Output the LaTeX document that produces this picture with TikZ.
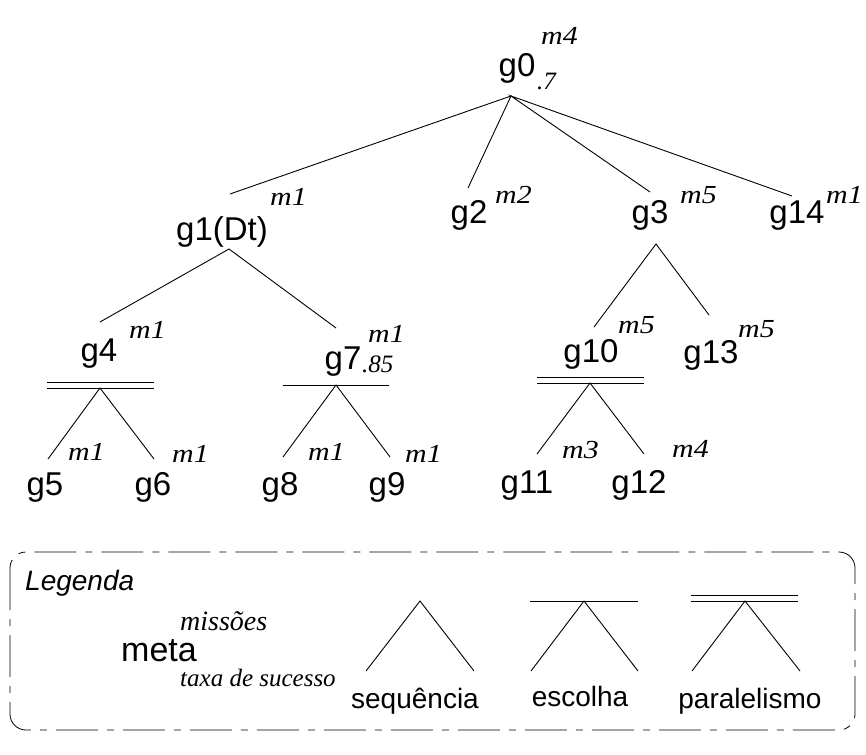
\documentclass[tikz,border=0pt]{standalone}
\usepackage{fontspec}
\setmainfont{Liberation Sans}
\newfontfamily\misfont{Liberation Serif}
\newfontfamily\miswide[FakeStretch=1.15]{Liberation Serif}
\usetikzlibrary{positioning}
\tikzset{
  goal/.style={inner sep=0pt, anchor=base, font=\fontsize{33}{36}\selectfont},
  mis/.style={inner sep=0pt, anchor=base west, font=\miswide\itshape\fontsize{26}{28}\selectfont},
  rate/.style={inner sep=0pt, anchor=base west, font=\misfont\itshape\fontsize{25}{28}\selectfont},
  legtxt/.style={inner sep=0pt, anchor=base, font=\fontsize{28}{32}\selectfont},
  branch/.style={line width=0.9pt},
  bar/.style={line width=0.9pt},
}

\begin{document}
\begin{tikzpicture}[x=1pt, y=-1pt]
  \useasboundingbox (0,0) rectangle (866,754);

  % goals
  \node[goal] (g0) at (517,77) {g0};
  \node[mis] (g0m) at (541,45) {m4};
  \node[rate] (g0t) at (537,90) {.7};
  \node[goal] (g1) at (222,240) {g1(Dt)};
  \node[mis] (g1m) at (270,205) {m1};
  \node[goal] (g2) at (469,223) {g2};
  \node[mis] (g2m) at (495,203) {m2};
  \node[goal] (g3) at (650,223) {g3};
  \node[mis] (g3m) at (680,203) {m5};
  \node[goal] (g14) at (797,223) {g14};
  \node[mis] (g14m) at (826,203) {m1};
  \node[goal] (g4) at (99,361) {g4};
  \node[mis] (g4m) at (129,338) {m1};
  \node[goal] (g7) at (343,369) {g7};
  \node[mis] (g7m) at (368,342) {m1};
  \node[rate] (g7t) at (362,372) {.85};
  \node[goal] (g10) at (591,362) {g10};
  \node[mis] (g10m) at (618,333) {m5};
  \node[goal] (g13) at (711,363) {g13};
  \node[mis] (g13m) at (738,337) {m5};
  \node[goal] (g5) at (45,495) {g5};
  \node[mis] (g5m) at (68,460) {m1};
  \node[goal] (g6) at (153,495) {g6};
  \node[mis] (g6m) at (172,462) {m1};
  \node[goal] (g8) at (280,495) {g8};
  \node[mis] (g8m) at (308,460) {m1};
  \node[goal] (g9) at (387,495) {g9};
  \node[mis] (g9m) at (405,462) {m1};
  \node[goal] (g11) at (527,493) {g11};
  \node[mis] (g11m) at (562,458) {m3};
  \node[goal] (g12) at (639,493) {g12};
  \node[mis] (g12m) at (672,457) {m4};

  % forks and ends
  \coordinate (g0f) at (511,96);
  \coordinate (g1in) at (230,194);
  \coordinate (g2in) at (468,188);
  \coordinate (g3in) at (650,192);
  \coordinate (g14in) at (792,196);
  \coordinate (g1f) at (229,249);
  \coordinate (g4in) at (100,322);
  \coordinate (g7in) at (336,328);
  \coordinate (g3f) at (656,244);
  \coordinate (g10in) at (594,327);
  \coordinate (g13in) at (709,315);
  \coordinate (g4f) at (100,388);
  \coordinate (g5in) at (48,459);
  \coordinate (g6in) at (154,459);
  \coordinate (g7f) at (336,385);
  \coordinate (g8in) at (283,457);
  \coordinate (g9in) at (390,457);
  \coordinate (g10f) at (590,383);
  \coordinate (g11in) at (537,454);
  \coordinate (g12in) at (644,454);

  \draw[branch] (g1in) -- (g0f) -- (g2in);
  \draw[branch] (g3in) -- (g0f) -- (g14in);
  \draw[branch] (g4in) -- (g1f) -- (g7in);
  \draw[branch] (g10in) -- (g3f) -- (g13in);
  \draw[branch] (g5in) -- (g4f) -- (g6in);
  \draw[branch] (g8in) -- (g7f) -- (g9in);
  \draw[branch] (g11in) -- (g10f) -- (g12in);

  % and / or bars
  \draw[bar] (47,382) -- (154,382);
  \draw[bar] (47,388) -- (154,388);
  \draw[bar] (283,385) -- (389,385);
  \draw[bar] (537,377) -- (644,377);
  \draw[bar] (537,383) -- (644,383);

  % legend
  \draw[line width=0.8pt, rounded corners=16pt,
        dash pattern=on 42pt off 9pt on 7pt off 9pt]
    (10,552) rectangle (855,730);
  \node[inner sep=0pt, anchor=base west,
        font=\itshape\fontsize{28}{32}\selectfont] (leg) at (25,590) {Legenda};
  \node[inner sep=0pt, anchor=base west,
        font=\fontsize{34}{38}\selectfont] (meta) at (121,661) {meta};
  \node[rate, font=\misfont\itshape\fontsize{28}{30}\selectfont] (legm) at (180,630) {missões};
  \node[rate] (legt) at (180,686) {taxa de sucesso};

  \coordinate (seqf) at (420,601);
  \coordinate (seql) at (366,671);
  \coordinate (seqr) at (474,671);
  \draw[branch] (seql) -- (seqf) -- (seqr);
  \node[legtxt] (seq) at (415,708) {sequência};

  \coordinate (escf) at (584,601);
  \coordinate (escl) at (531,671);
  \coordinate (escr) at (638,671);
  \draw[branch] (escl) -- (escf) -- (escr);
  \draw[bar] (530,601) -- (638,601);
  \node[legtxt] (esc) at (580,706) {escolha};

  \coordinate (parf) at (745,601);
  \coordinate (parl) at (692,671);
  \coordinate (parr) at (800,671);
  \draw[branch] (parl) -- (parf) -- (parr);
  \draw[bar] (691,595) -- (798,595);
  \draw[bar] (691,601) -- (798,601);
  \node[legtxt] (par) at (750,708) {paralelismo};
\end{tikzpicture}
\end{document}
